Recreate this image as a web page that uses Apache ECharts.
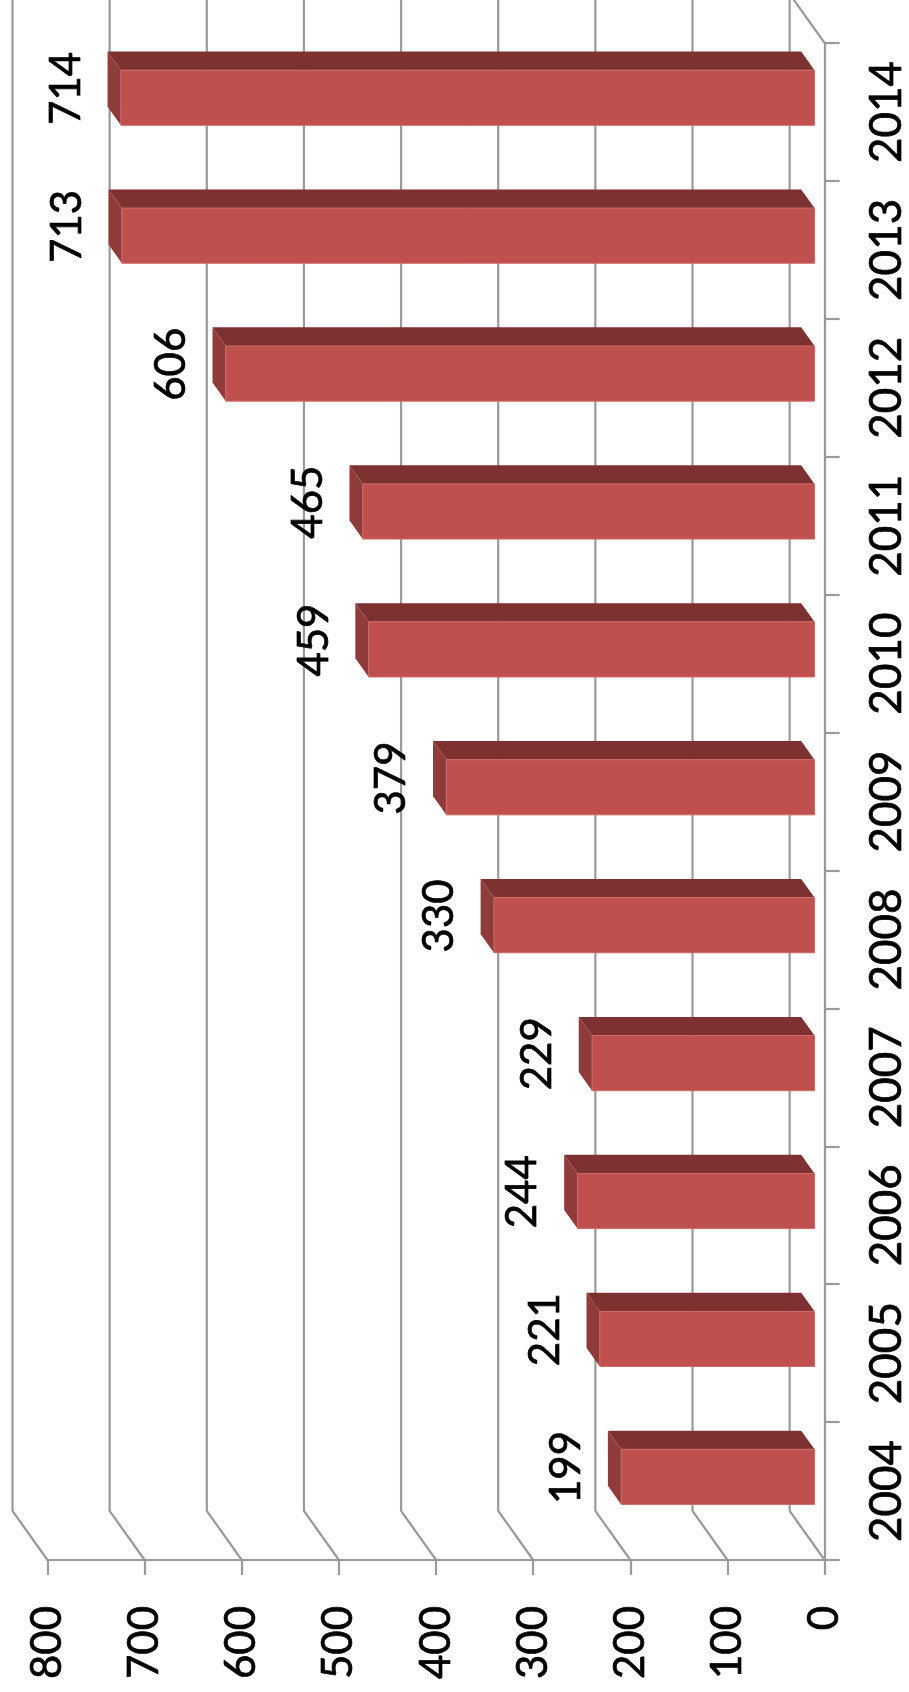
<!DOCTYPE html>
<html>
<head>
<meta charset="utf-8">
<script src="https://cdn.jsdelivr.net/npm/echarts@6/dist/echarts.min.js"></script>
<style>
html,body{margin:0;padding:0;background:#fff;}
#chart{width:909px;height:1692px;}
</style>
</head>
<body>
<div id="chart"></div>
<script>
// ---- data ----
var years = ['2004','2005','2006','2007','2008','2009','2010','2011','2012','2013','2014'];
var values = [199, 221, 244, 229, 330, 379, 459, 465, 606, 713, 714];
var valueTicks = [0, 100, 200, 300, 400, 500, 600, 700, 800];

// ---- 3D look (pixel offsets for depth) ----
var DX = -35, DY = -49;      // full depth offset of the chart box
var F1 = 0.29, F2 = 0.67;    // bar front / back depth fractions
var BAR_FRAC = 0.40;         // bar thickness as share of band
var GRID_COLOR = '#9a9a9a';
var FONT = 'Lato';

var chart = echarts.init(document.getElementById('chart'), null, {renderer: 'canvas'});

function gridRender(params, api) {
  var t = api.value(0);
  var cs = params.coordSys;
  var x = api.coord([t, 0])[0];
  var yTop = cs.y, yBot = cs.y + cs.height;
  var children = [{
    type: 'polyline',
    shape: {points: [[x + DX, yTop + DY], [x + DX, yBot + DY], [x, yBot]]},
    style: {stroke: GRID_COLOR, lineWidth: 2.2, fill: null}
  }];
  if (t === valueTicks[0]) {
    children.push({
      type: 'line',
      shape: {x1: x, y1: yTop, x2: x + DX, y2: yTop + DY},
      style: {stroke: GRID_COLOR, lineWidth: 2.2}
    });
  }
  return {type: 'group', children: children};
}

function barRender(params, api) {
  var v = api.value(0), c = api.value(1);
  var p0 = api.coord([0, c]);
  var p1 = api.coord([v, c]);
  var band = api.size([0, 1])[1];
  var half = band * BAR_FRAC / 2;
  var ax = DX * F1, ay = DY * F1, bx = DX * F2, by = DY * F2;
  var top = p0[1] - half, bot = p0[1] + half;
  var xe = p1[0], x0 = p0[0];
  var mx = DX * (F1 + F2) / 2, my = DY * (F1 + F2) / 2;
  return {
    type: 'group',
    children: [
      { // top face
        type: 'polygon',
        shape: {points: [[xe + ax, top + ay], [x0 + ax, top + ay], [x0 + bx, top + by], [xe + bx, top + by]]},
        style: {fill: '#7d3130'}
      },
      { // end face
        type: 'polygon',
        shape: {points: [[xe + ax, top + ay], [xe + ax, bot + ay], [xe + bx, bot + by], [xe + bx, top + by]]},
        style: {fill: '#8e3b3a'}
      },
      { // front face
        type: 'rect',
        shape: {x: xe + ax, y: top + ay, width: x0 - xe, height: bot - top},
        style: {fill: '#c0504d', stroke: '#cc6a67', lineWidth: 1}
      },
      { // value label
        type: 'text',
        x: xe + mx - 48,
        y: p0[1] + my,
        rotation: Math.PI / 2,
        style: {
          text: String(v),
          fill: '#000',
          font: '42px ' + FONT,
          align: 'center',
          verticalAlign: 'middle',
          stroke: '#000',
          lineWidth: 0.7
        }
      }
    ]
  };
}

var option = {
  animation: false,
  backgroundColor: '#ffffff',
  grid: {left: 47.5, right: 84, top: 43, bottom: 132, containLabel: false},
  xAxis: {
    type: 'value',
    inverse: true,
    min: 0, max: 800, interval: 100,
    position: 'bottom',
    axisLine: {show: true, lineStyle: {color: GRID_COLOR, width: 2.2}},
    axisTick: {show: true, length: 15, lineStyle: {color: GRID_COLOR, width: 2.2}},
    axisLabel: {rotate: 90, margin: 46, fontSize: 42, fontFamily: FONT, color: '#000',
                textBorderColor: '#000', textBorderWidth: 0.7},
    splitLine: {show: false}
  },
  yAxis: {
    type: 'category',
    data: years,
    position: 'right',
    axisLine: {show: true, lineStyle: {color: GRID_COLOR, width: 2.2}},
    axisTick: {show: true, length: 15, lineStyle: {color: GRID_COLOR, width: 2.2}},
    axisLabel: {rotate: 90, margin: 40, fontSize: 44, fontFamily: FONT, color: '#000',
                textBorderColor: '#000', textBorderWidth: 0.7},
    splitLine: {show: false}
  },
  series: [
    {
      type: 'custom',
      z: 1,
      clip: false,
      silent: true,
      renderItem: gridRender,
      encode: {x: 0, y: 1},
      data: valueTicks.map(function (t) { return [t, 0]; })
    },
    {
      type: 'custom',
      z: 2,
      clip: false,
      renderItem: barRender,
      encode: {x: 0, y: 1},
      data: values.map(function (v, i) { return [v, i]; })
    }
  ]
};
chart.setOption(option);
</script>
</body>
</html>
